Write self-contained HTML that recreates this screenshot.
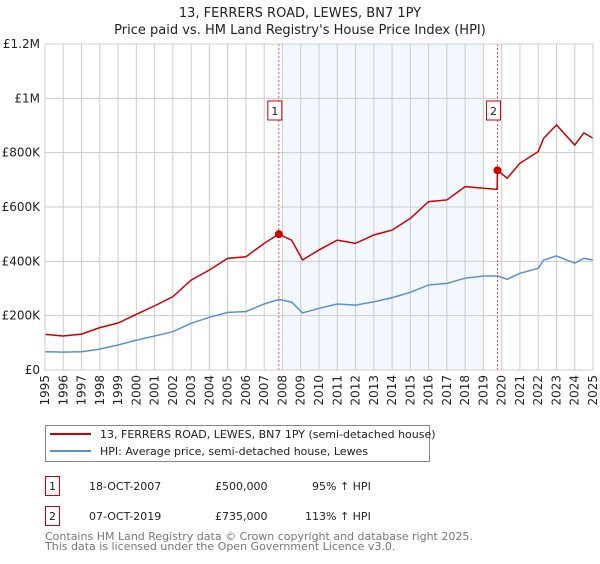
<!DOCTYPE html>
<html><head><meta charset="utf-8"><style>
body{margin:0;background:#fff;font-family:"DejaVu Sans","Liberation Sans",sans-serif;}
svg text{font-family:"DejaVu Sans","Liberation Sans",sans-serif;}
</style></head><body>
<svg id="c" width="600" height="560" xmlns="http://www.w3.org/2000/svg">
<text x="300" y="17" text-anchor="middle" font-size="13" fill="#222">13, FERRERS ROAD, LEWES, BN7 1PY</text>
<text x="300" y="34" text-anchor="middle" font-size="13" fill="#222">Price paid vs. HM Land Registry's House Price Index (HPI)</text>
<g id="plot"></g>
<g>
<rect x="45.5" y="425.5" width="384" height="36" fill="#fff" stroke="#888"/>
<line x1="50" y1="434" x2="91" y2="434" stroke="#cc0000" stroke-width="2"/>
<text x="100" y="438" font-size="11" fill="#222">13, FERRERS ROAD, LEWES, BN7 1PY (semi-detached house)</text>
<line x1="50" y1="451" x2="91" y2="451" stroke="#5b8fd0" stroke-width="2"/>
<text x="100" y="455" font-size="11" fill="#222">HPI: Average price, semi-detached house, Lewes</text>
</g>
<g font-size="11" fill="#222">
<rect x="45.5" y="476.5" width="14" height="19" fill="#fff" stroke="#cc0000"/>
<text x="52.5" y="490" text-anchor="middle">1</text>
<text x="89" y="490">18-OCT-2007</text>
<text x="215" y="490">£500,000</text>
<text x="312" y="490">95% ↑ HPI</text>
<rect x="45.5" y="506.5" width="14" height="19" fill="#fff" stroke="#cc0000"/>
<text x="52.5" y="520" text-anchor="middle">2</text>
<text x="89" y="520">07-OCT-2019</text>
<text x="215" y="520">£735,000</text>
<text x="305" y="520">113% ↑ HPI</text>
</g>
<text x="45" y="540" font-size="11" fill="#777">Contains HM Land Registry data © Crown copyright and database right 2025.</text>
<text x="45" y="550" font-size="11" fill="#777">This data is licensed under the Open Government Licence v3.0.</text>
</svg>
<script>
const yTicks=[0,200000,400000,600000,800000,1000000,1200000];
const yTickLabels=["£0","£200K","£400K","£600K","£800K","£1M","£1.2M"];
const years=[1995,1996,1997,1998,1999,2000,2001,2002,2003,2004,2005,2006,2007,2008,2009,2010,2011,2012,2013,2014,2015,2016,2017,2018,2019,2020,2021,2022,2023,2024,2025];
const hpiDates=[1995,1996,1997,1998,1999,2000,2001,2002,2003,2004,2005,2006,2007,2007.8,2008.5,2009.1,2010,2011,2012,2013,2014,2015,2016,2017,2018,2019,2019.8,2020.3,2021,2022,2022.3,2023,2024,2024.5,2025];
const hpiValues=[67000,66000,67000,77000,92000,110000,125000,141000,172000,194000,212000,215000,243000,260000,250000,210000,227000,243000,239000,251000,266000,286000,313000,319000,338000,346000,346000,334000,356000,374000,405000,420000,393000,411000,405000];
const propDates=[1995,1996,1997,1998,1999,2000,2001,2002,2003,2004,2005,2006,2007,2007.8,2008.5,2009.1,2010,2011,2012,2013,2014,2015,2016,2017,2018,2019,2019.75,2019.77,2020.3,2021,2022,2022.3,2023,2024,2024.5,2025];
const propValues=[131000,125000,132000,156000,173000,205000,236000,270000,331000,368000,411000,417000,466000,500000,478000,405000,442000,478000,466000,497000,515000,558000,620000,626000,675000,669000,665000,735000,706000,761000,804000,853000,902000,828000,873000,853000];
const saleDates=[2007.8,2019.77];
const saleValues=[500000,735000];
const saleLabels=["1","2"];
const X0=45,X1=593,Y0=370,Y1=44;
const xs=t=>X0+(t-1995)/30*(X1-X0);
const ys=v=>Y0-v/1200000*(Y0-Y1);
const NS="http://www.w3.org/2000/svg";
const g=document.getElementById('plot');
function mk(tag,a){const e=document.createElementNS(NS,tag);for(const k in a)e.setAttribute(k,a[k]);g.appendChild(e);return e;}
const shade=mk('rect',{x:xs(2008),y:Y1,width:xs(2019)-xs(2008),height:Y0-Y1,fill:'#eef3fd',opacity:0.7});


years.forEach(yr=>{const l=mk('line',{x1:xs(yr),x2:xs(yr),y1:Y1,y2:Y0,stroke:'#ccc','stroke-width':1});


const t=mk('text',{x:0,y:0,'font-size':12,fill:'#222','text-anchor':'end',transform:`translate(${xs(yr)+4},${Y0+5}) rotate(-90)`});


t.textContent=yr;});
yTicks.forEach((v,i)=>{const l=mk('line',{x1:X0,x2:X1,y1:ys(v),y2:ys(v),stroke:'#ccc','stroke-width':1});


const t=mk('text',{x:X0-5,y:ys(v)+4,'font-size':12,fill:'#222','text-anchor':'end'});


t.textContent=yTickLabels[i];});
saleDates.forEach((d,i)=>{const l=mk('line',{x1:xs(d),x2:xs(d),y1:Y1,y2:Y0,stroke:'#f05050','stroke-width':1,'stroke-dasharray':'2,2'});


const r=mk('rect',{x:xs(d)-11,y:101,width:14,height:19,fill:'#fff',stroke:'#cc0000'});


const t=mk('text',{x:xs(d)-4,y:115,'font-size':11,fill:'#222','text-anchor':'middle'});


t.textContent=saleLabels[i];});
const hp=mk('polyline',{points:hpiDates.map((d,i)=>xs(d)+','+ys(hpiValues[i])).join(' '),fill:'none',stroke:'#5b8fd0','stroke-width':1.5});


const pp=mk('polyline',{points:propDates.map((d,i)=>xs(d)+','+ys(propValues[i])).join(' '),fill:'none',stroke:'#cc0000','stroke-width':1.5});


saleDates.forEach((d,i)=>{const c=mk('circle',{cx:xs(d),cy:ys(saleValues[i]),r:4,fill:'#cc0000'});

});
const ax=mk('rect',{x:X0,y:Y1,width:X1-X0,height:Y0-Y1,fill:'none',stroke:'#ccc'});


</script>
</body></html>
